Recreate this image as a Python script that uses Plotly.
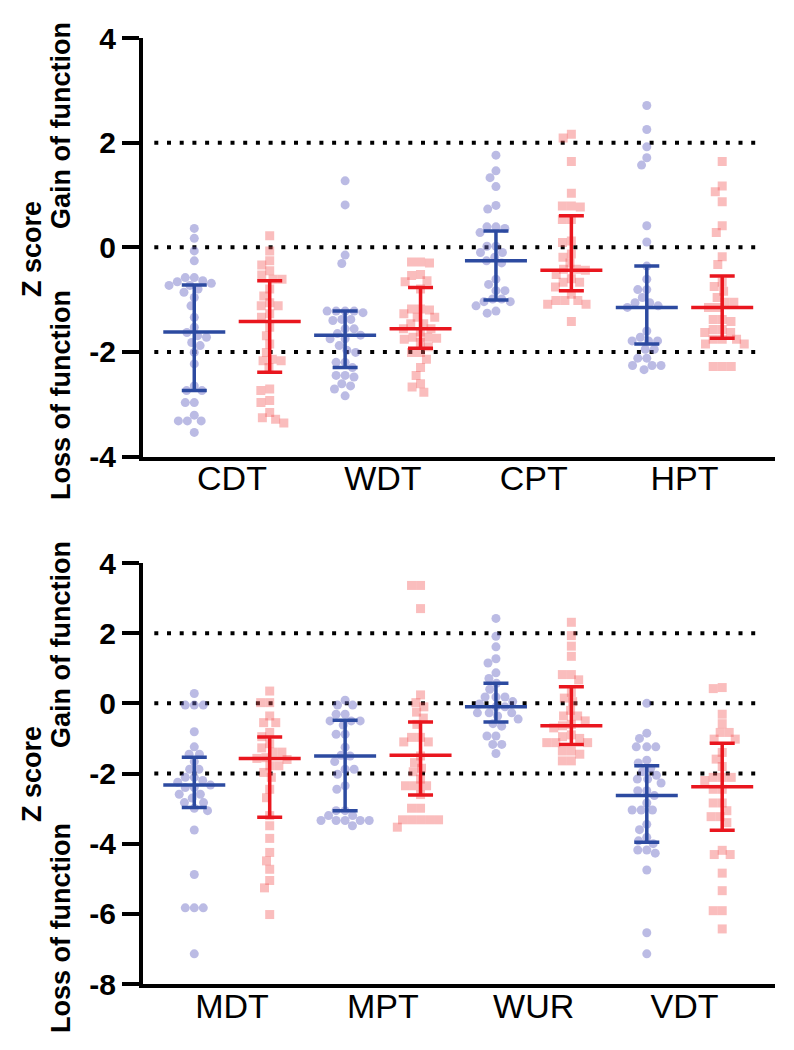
import numpy as np
import plotly.graph_objects as go

# The page draws the figure 8 px in from the window edges (default body margin).
PAGE_OFF = 8
FW, FH = 794 - PAGE_OFF, 1050 - PAGE_OFF

top_categories = ["CDT", "WDT", "CPT", "HPT"]
bottom_categories = ["MDT", "MPT", "WUR", "VDT"]
y_tick_top = [-4, -2, 0, 2, 4]
y_tick_bottom = [-8, -6, -4, -2, 0, 2, 4]
ref_lines = [2, 0, -2]

# ---- individual Z scores (blue circles / red squares) ----
cdt_blue = [0.36, 0.17, -0.07, -0.26, -0.58, -0.58, -0.64, -0.66, -0.69, -0.73, -0.73, -0.80,
            -0.86, -0.96, -1.12, -1.34, -1.53, -1.63, -1.69, -1.72, -1.82, -1.88, -2.01, -2.23,
            -2.65, -2.74, -2.74, -2.97, -2.97, -3.21, -3.32, -3.32, -3.32, -3.54]
cdt_red = [0.22, -0.07, -0.26, -0.34, -0.45, -0.53, -0.61, -0.61, -0.80, -0.93, -1.06, -1.12,
           -1.12, -1.27, -1.34, -1.53, -1.69, -1.85, -2.01, -2.14, -2.17, -2.17, -2.30, -2.71,
           -2.74, -2.93, -2.97, -3.16, -3.26, -3.29, -3.36]
wdt_blue = [1.27, 0.81, -0.15, -0.31, -1.22, -1.22, -1.22, -1.22, -1.25, -1.38, -1.38, -1.40,
            -1.56, -1.56, -1.65, -1.68, -1.75, -1.75, -1.88, -1.97, -2.01, -2.20, -2.20, -2.30,
            -2.45, -2.45, -2.48, -2.61, -2.65, -2.71, -2.84]
wdt_red = [-0.28, -0.28, -0.30, -0.52, -0.54, -0.64, -0.66, -0.80, -1.18, -1.18, -1.20, -1.27,
           -1.34, -1.34, -1.46, -1.46, -1.56, -1.56, -1.62, -1.72, -1.72, -1.74, -1.76, -1.82,
           -1.90, -2.01, -2.01, -2.14, -2.30, -2.45, -2.61, -2.67, -2.77]
cpt_blue = [1.76, 1.46, 1.33, 1.16, 0.80, 0.73, 0.39, 0.39, 0.36, 0.28, 0.02, 0.02, -0.10,
            -0.10, -0.19, -0.26, -0.30, -0.61, -0.71, -0.83, -0.83, -0.99, -0.99, -1.04, -1.04,
            -1.12, -1.22, -1.26]
cpt_red = [2.16, 2.09, 1.64, 1.03, 0.79, 0.79, 0.77, 0.53, 0.53, 0.12, 0.09, -0.13, -0.19,
           -0.30, -0.42, -0.42, -0.44, -0.52, -0.60, -0.67, -0.67, -0.76, -0.90, -1.02, -1.02,
           -1.02, -1.09, -1.09, -1.42]
hpt_blue = [2.71, 2.25, 1.92, 1.71, 1.57, 0.41, 0.10, -0.36, -0.61, -0.81, -0.81, -0.96, -1.06,
            -1.06, -1.12, -1.15, -1.60, -1.72, -1.79, -1.79, -1.79, -1.95, -1.95, -2.12, -2.12,
            -2.26, -2.26, -2.26, -2.34]
hpt_red = [1.64, 1.17, 1.06, 0.87, 0.41, 0.28, -0.18, -0.33, -0.67, -0.75, -0.84, -0.96, -1.05,
           -1.05, -1.15, -1.15, -1.38, -1.38, -1.42, -1.57, -1.57, -1.63, -1.63, -1.76, -1.76,
           -1.76, -1.85, -1.85, -2.28, -2.28, -2.28]

mdt_blue = [0.28, -0.05, -0.05, -0.05, -0.81, -1.24, -1.45, -1.45, -1.66, -1.88, -1.88, -2.11,
            -2.11, -2.20, -2.25, -2.33, -2.40, -2.40, -2.59, -2.59, -2.70, -2.83, -2.83, -2.99,
            -3.06, -3.61, -4.88, -5.83, -5.83, -5.83, -7.14]
mdt_red = [0.35, 0.02, 0.02, -0.36, -0.55, -0.55, -0.83, -0.95, -1.15, -1.27, -1.39, -1.39,
           -1.55, -1.57, -1.60, -1.78, -1.78, -1.97, -2.11, -2.45, -2.69, -3.20, -3.49, -3.85,
           -4.25, -4.49, -4.73, -5.05, -5.26, -6.02]
mpt_blue = [0.09, -0.05, -0.05, -0.31, -0.31, -0.50, -0.50, -0.50, -0.62, -0.88, -0.88, -1.25,
            -1.48, -1.50, -1.66, -1.88, -1.88, -2.02, -2.35, -2.45, -3.06, -3.06, -3.20, -3.20,
            -3.34, -3.34, -3.34, -3.34, -3.34, -3.49]
mpt_red = [3.36, 3.36, 2.70, 0.24, 0.02, -0.10, -0.25, -0.42, -0.60, -0.97, -0.97, -1.10, -1.10,
           -1.50, -1.69, -1.85, -1.95, -2.16, -2.35, -2.35, -2.35, -2.60, -2.99, -2.99, -3.32,
           -3.32, -3.32, -3.32, -3.32, -3.53]
wur_blue = [2.42, 1.91, 1.61, 1.27, 1.15, 0.87, 0.71, 0.57, 0.40, 0.18, 0.18, 0.18, 0.05, -0.02,
            -0.10, -0.10, -0.27, -0.27, -0.27, -0.36, -0.45, -0.58, -0.65, -0.93, -0.93, -1.17,
            -1.17, -1.43]
wur_red = [2.31, 1.93, 1.63, 1.34, 0.82, 0.82, 0.67, 0.31, 0.15, 0.05, -0.20, -0.36, -0.36,
           -0.50, -0.60, -0.64, -0.70, -0.90, -0.95, -1.00, -1.12, -1.12, -1.12, -1.36, -1.36,
           -1.45, -1.64, -1.64]
vdt_blue = [0.0, -0.85, -1.0, -1.24, -1.24, -1.24, -1.62, -1.70, -1.85, -1.95, -2.05, -2.16,
            -2.16, -2.27, -2.49, -2.49, -2.63, -2.84, -3.04, -3.04, -3.04, -3.45, -3.60, -3.82,
            -3.92, -4.00, -4.18, -4.18, -4.27, -4.75, -6.54, -7.14]
vdt_red = [0.45, 0.42, -0.31, -0.58, -0.83, -0.83, -1.02, -1.02, -1.40, -1.59, -1.80, -2.11,
           -2.11, -2.11, -2.20, -2.45, -2.45, -2.84, -2.84, -3.06, -3.23, -3.23, -3.40, -4.19,
           -4.31, -4.31, -4.84, -5.34, -5.91, -5.91, -6.43]

# ---- median and interquartile range (as drawn) ----
top_blue_median = [-1.62, -1.68, -0.26, -1.15]
top_blue_upper = [-0.72, -1.22, 0.31, -0.36]
top_blue_lower = [-2.74, -2.30, -1.01, -1.85]
top_red_median = [-1.42, -1.56, -0.44, -1.15]
top_red_upper = [-0.64, -0.77, 0.60, -0.55]
top_red_lower = [-2.39, -1.93, -0.83, -1.74]

bottom_blue_median = [-2.33, -1.50, -0.10, -2.63]
bottom_blue_upper = [-1.54, -0.48, 0.57, -1.78]
bottom_blue_lower = [-2.97, -3.06, -0.53, -3.96]
bottom_red_median = [-1.57, -1.48, -0.64, -2.38]
bottom_red_upper = [-0.96, -0.53, 0.47, -1.14]
bottom_red_lower = [-3.25, -2.61, -1.17, -3.62]

top_blue = [cdt_blue, wdt_blue, cpt_blue, hpt_blue]
top_red = [cdt_red, wdt_red, cpt_red, hpt_red]
bottom_blue = [mdt_blue, mpt_blue, wur_blue, vdt_blue]
bottom_red = [mdt_red, mpt_red, wur_red, vdt_red]

# ---- style ----
FONT = "Liberation Sans, Arial, Helvetica, sans-serif"
BLUE_LINE = "rgb(44,74,160)"
RED_LINE = "rgb(233,22,30)"
BLUE_PT = "rgba(105,105,195,0.45)"
RED_PT = "rgba(242,90,90,0.40)"


def px_x(X):
    return (X - PAGE_OFF) / FW


def px_y(Y):
    return 1 - (Y - PAGE_OFF) / FH


X_RANGE = [-0.68, 7.7]
X_DOMAIN = [px_x(143), px_x(775)]
TOP_DOMAIN = [px_y(456.5), px_y(38)]
BOT_DOMAIN = [px_y(984), px_y(563)]
PX_PER_X = (X_DOMAIN[1] - X_DOMAIN[0]) * FW / (X_RANGE[1] - X_RANGE[0])
PX_PER_Y_TOP = (TOP_DOMAIN[1] - TOP_DOMAIN[0]) * FH / 8
PX_PER_Y_BOT = (BOT_DOMAIN[1] - BOT_DOMAIN[0]) * FH / 12
MARKER = 9
MEDIAN_PX = 62  # drawn length of the median bar


def swarm(vals, ppu_y, d=MARKER):
    """Beeswarm offsets (in x data units) computed from the values."""
    vals = np.asarray(vals, dtype=float)
    order = np.argsort(-vals, kind="stable")
    placed = []
    offs = np.zeros(len(vals))
    for i in order:
        y = vals[i] * ppu_y
        near = [(px, py) for px, py in placed if abs(py - y) < d]
        cands = [0.0]
        for px, py in near:
            dx = np.sqrt(max(d * d - (py - y) ** 2, 0.0))
            cands += [px + dx + 0.01, px - dx - 0.01]
        cands.sort(key=lambda c: (abs(c), c))
        for c in cands:
            if all((c - px) ** 2 + (y - py) ** 2 >= d * d - 1e-6 for px, py in near):
                offs[i] = c
                placed.append((c, y))
                break
    return offs / PX_PER_X


fig = go.Figure()


def add_panel(blue_sets, red_sets, bmed, bup, blo, rmed, rup, rlo, xa, ya, ppu_y):
    bx, by, rx, ry = [], [], [], []
    for k in range(4):
        xb = 2 * k
        xr = 2 * k + 1
        bx += list(xb + swarm(blue_sets[k], ppu_y))
        by += list(blue_sets[k])
        rx += list(xr + swarm(red_sets[k], ppu_y))
        ry += list(red_sets[k])
    fig.add_trace(go.Scatter(x=bx, y=by, mode="markers", xaxis=xa, yaxis=ya,
                             marker=dict(symbol="circle", size=MARKER, color=BLUE_PT,
                                         line=dict(width=0)), showlegend=False))
    fig.add_trace(go.Scatter(x=rx, y=ry, mode="markers", xaxis=xa, yaxis=ya,
                             marker=dict(symbol="square", size=MARKER, color=RED_PT,
                                         line=dict(width=0)), showlegend=False))
    for med, up, lo, col, off in [(bmed, bup, blo, BLUE_LINE, 0), (rmed, rup, rlo, RED_LINE, 1)]:
        xs = [2 * k + off for k in range(4)]
        fig.add_trace(go.Scatter(
            x=xs, y=med, mode="markers", xaxis=xa, yaxis=ya, showlegend=False,
            marker=dict(symbol="line-ew", size=MEDIAN_PX / 1.4, color=col,
                        line=dict(width=3.5, color=col)),
            error_y=dict(type="data", symmetric=False,
                         array=[u - m for u, m in zip(up, med)],
                         arrayminus=[m - l for m, l in zip(med, lo)],
                         color=col, thickness=3.5, width=12.5)))


add_panel(top_blue, top_red, top_blue_median, top_blue_upper, top_blue_lower,
          top_red_median, top_red_upper, top_red_lower, "x", "y", PX_PER_Y_TOP)
add_panel(bottom_blue, bottom_red, bottom_blue_median, bottom_blue_upper, bottom_blue_lower,
          bottom_red_median, bottom_red_upper, bottom_red_lower, "x2", "y2", PX_PER_Y_BOT)

shapes = []
for xr_, yr_ in [("x", "y"), ("x2", "y2")]:
    for v in ref_lines:
        shapes.append(dict(type="line", xref=xr_, yref=yr_, x0=-0.53, x1=7.53, y0=v, y1=v,
                           layer="below", line=dict(color="black", width=4, dash="4px,8.7px")))

xcommon = dict(range=X_RANGE, domain=X_DOMAIN, showline=True, linewidth=4, linecolor="black",
               ticks="", showgrid=False, zeroline=False, automargin=False,
               ticklabelstandoff=-11,
               tickfont=dict(family=FONT, size=34, color="black"))
ycommon = dict(showline=True, linewidth=4, linecolor="black", ticks="outside", ticklen=17,
               tickwidth=3.5, tickcolor="black", showgrid=False, zeroline=False, automargin=False,
               tickfont=dict(family=FONT, size=30, color="black", weight="bold"))

TITLE_FONT = dict(family=FONT, size=27, color="black", weight="bold")
annotations = []
for yc, yg, yl in [(249, 126, 395), (774, 645, 928)]:
    annotations.append(dict(text="Z score", x=px_x(32), y=px_y(yc), xref="paper", yref="paper",
                            textangle=-90, showarrow=False, xanchor="center", yanchor="middle",
                            font=TITLE_FONT))
    annotations.append(dict(text="Gain of function", x=px_x(61), y=px_y(yg), xref="paper",
                            yref="paper", textangle=-90, showarrow=False, xanchor="center",
                            yanchor="middle", font=TITLE_FONT))
    annotations.append(dict(text="Loss of function", x=px_x(61), y=px_y(yl), xref="paper",
                            yref="paper", textangle=-90, showarrow=False, xanchor="center",
                            yanchor="middle", font=TITLE_FONT))

fig.update_layout(
    width=FW, height=FH, margin=dict(l=0, r=0, t=0, b=0, autoexpand=False),
    paper_bgcolor="white", plot_bgcolor="white", showlegend=False,
    xaxis=dict(xcommon, anchor="y", tickvals=[0.5, 2.5, 4.5, 6.5], ticktext=top_categories),
    xaxis2=dict(xcommon, anchor="y2", tickvals=[0.5, 2.5, 4.5, 6.5], ticktext=bottom_categories),
    yaxis=dict(ycommon, anchor="x", domain=TOP_DOMAIN, range=[-4, 4], tickvals=y_tick_top,
               ticktext=[str(v) for v in y_tick_top]),
    yaxis2=dict(ycommon, anchor="x2", domain=BOT_DOMAIN, range=[-8, 4], tickvals=y_tick_bottom,
                ticktext=[str(v) for v in y_tick_bottom]),
    shapes=shapes, annotations=annotations,
)

fig.write_html("out.html")
